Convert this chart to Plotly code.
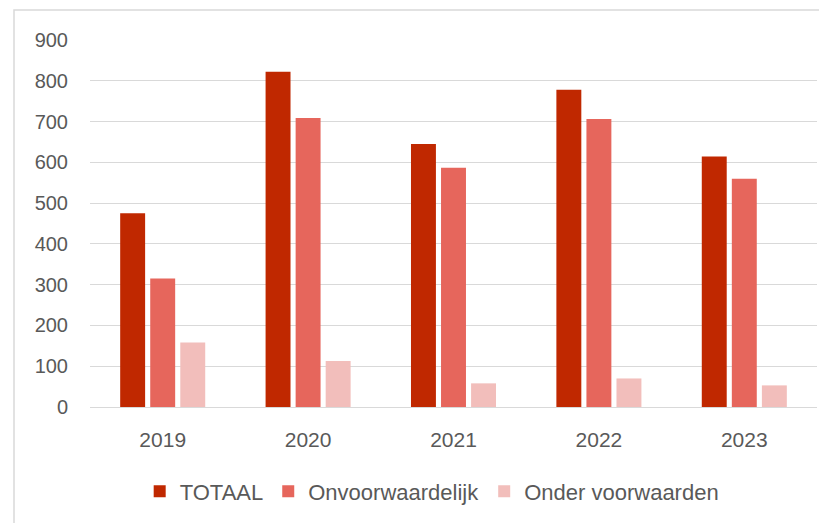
import plotly.graph_objects as go

years = ["2019", "2020", "2021", "2022", "2023"]
totaal = [475, 822, 645, 778, 614]
onvoorwaardelijk = [315, 709, 587, 706, 560]
onder_voorwaarden = [158, 113, 58, 70, 53]
y_ticks = [0, 100, 200, 300, 400, 500, 600, 700, 800, 900]

series = [
    ("TOTAAL", totaal, "#C02800"),
    ("Onvoorwaardelijk", onvoorwaardelijk, "#E6665C"),
    ("Onder voorwaarden", onder_voorwaarden, "#F2BEBB"),
]

fig = go.Figure()
for name, vals, col in series:
    fig.add_trace(go.Bar(x=years, y=vals, name=name, marker=dict(color=col, line=dict(width=0))))

font = dict(family="Liberation Sans, Arial, sans-serif", size=20, color="#595959")
legend_font = dict(family="Liberation Sans, Arial, sans-serif", size=22, color="#595959")

# page body has an 8px offset; plot area targeted at x 90..817, y 40..407 on screen
fig.update_layout(
    width=827, height=523,
    margin=dict(l=82, r=18, t=32, b=124),
    paper_bgcolor="white", plot_bgcolor="white",
    barmode="group", bargap=0.38, bargroupgap=0.17,
    font=font,
    showlegend=True,
    legend=dict(orientation="h", x=0.47, xanchor="center", y=-0.23, yanchor="middle",
                font=legend_font, traceorder="normal"),
    xaxis=dict(showgrid=False, showline=False, ticks="outside", ticklen=14, tickcolor="rgba(0,0,0,0)",
               tickfont=dict(family="Liberation Sans, Arial, sans-serif", size=21, color="#595959")),
    yaxis=dict(range=[0, 900], tickvals=y_ticks, showgrid=True, gridcolor="#D9D9D9", gridwidth=1,
               zeroline=True, zerolinecolor="#D9D9D9", zerolinewidth=1, showline=False,
               ticks="outside", ticklen=17, tickcolor="rgba(0,0,0,0)", tickfont=font),
    shapes=[dict(type="rect", xref="paper", yref="paper",
                 x0=(14 - 90) / 727, x1=(840 - 90) / 727,
                 y0=-0.5, y1=1 + (40 - 10) / 367,
                 line=dict(color="#D9D9D9", width=1.5), fillcolor="rgba(0,0,0,0)", layer="below")],
)

fig.write_html("out.html")
